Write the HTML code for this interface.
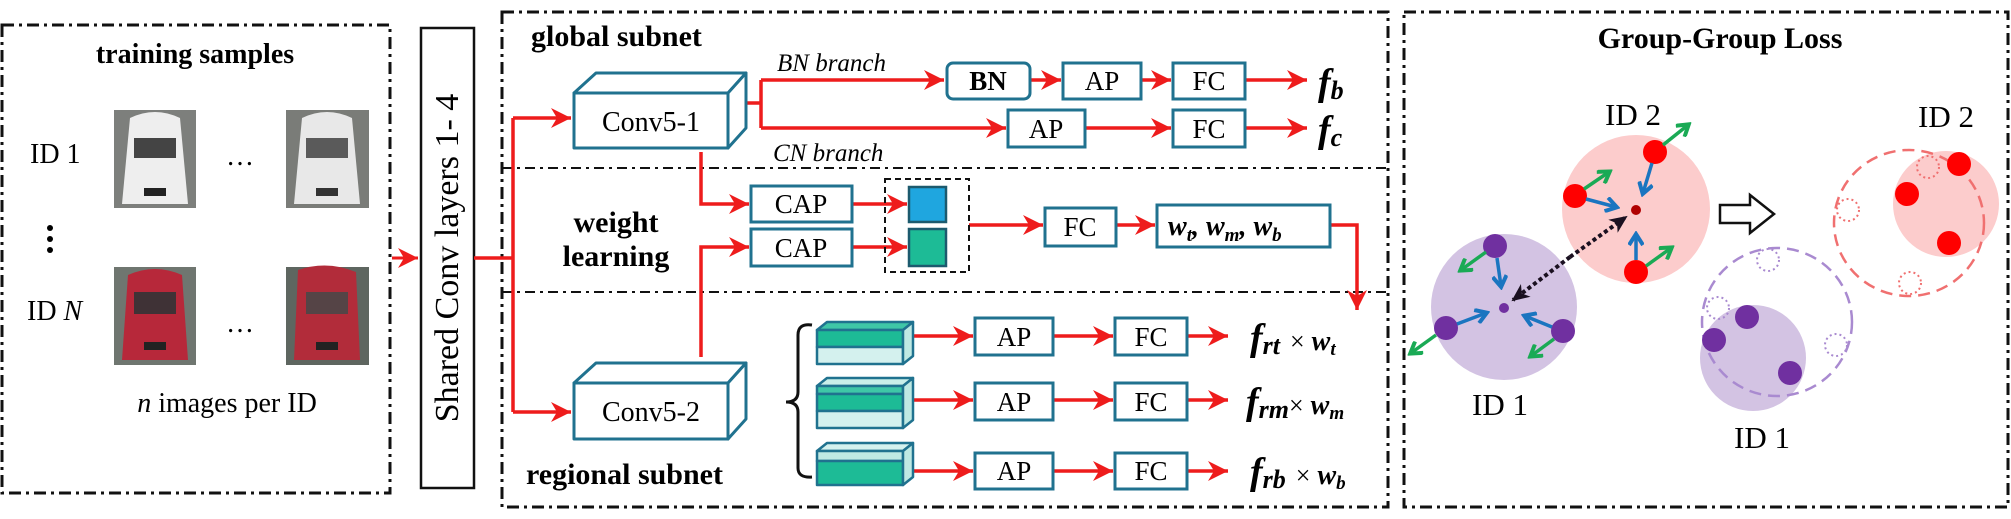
<!DOCTYPE html>
<html><head><meta charset="utf-8"><style>
html,body{margin:0;padding:0;background:#fff}
svg{display:block}
svg text{font-family:"Liberation Serif","Times New Roman",serif;fill:#000}
</style></head><body>
<svg width="2011" height="519" viewBox="0 0 2011 519" xmlns="http://www.w3.org/2000/svg" font-family="Liberation Serif, serif">
<defs>
<marker id="ar" markerUnits="userSpaceOnUse" markerWidth="22" markerHeight="22" refX="20" refY="10" orient="auto"><path d="M0,0 L20,10 L0,20 L6,10 Z" fill="#ee1c1c"/></marker>
<marker id="ab" markerUnits="userSpaceOnUse" markerWidth="16" markerHeight="16" refX="12" refY="8" orient="auto"><path d="M2,1 L13,8 L2,15" fill="none" stroke="#1a75c0" stroke-width="4"/></marker>
<marker id="ag" markerUnits="userSpaceOnUse" markerWidth="16" markerHeight="16" refX="12" refY="8" orient="auto"><path d="M2,1 L13,8 L2,15" fill="none" stroke="#1aaa55" stroke-width="4"/></marker>
<marker id="ak" markerUnits="userSpaceOnUse" markerWidth="20" markerHeight="20" refX="16" refY="10" orient="auto"><path d="M0,2 L18,10 L0,18 L5,10 Z" fill="#1a1020"/></marker>
</defs>

<g fill="none" stroke="#111" stroke-width="3" stroke-dasharray="12 5 3 5">
<rect x="2" y="25" width="388" height="468"/>
<rect x="502" y="12" width="886" height="495"/>
<rect x="1404" y="12" width="604" height="495"/>
</g>
<g stroke="#111" stroke-width="2" stroke-dasharray="10 5 3 5">
<line x1="502" y1="168" x2="1388" y2="168"/>
<line x1="502" y1="292" x2="1388" y2="292"/>
</g>

<text x="195" y="63" font-size="28" font-weight="bold" text-anchor="middle">training samples</text>
<text x="30" y="163" font-size="28">ID 1</text>
<text x="27" y="320" font-size="28">ID <tspan font-style="italic">N</tspan></text>
<text x="240" y="165" font-size="28" text-anchor="middle">…</text>
<text x="240" y="332" font-size="28" text-anchor="middle">…</text>
<circle cx="50" cy="228" r="3"/><circle cx="50" cy="239" r="3"/><circle cx="50" cy="250" r="3"/>
<text x="227" y="412" font-size="28" text-anchor="middle"><tspan font-style="italic">n</tspan> images per ID</text>
<g>
<rect x="114" y="110" width="82" height="98" fill="#7d7f7c"/>
<path d="M130,118 Q155,106 180,118 L188,204 L122,204 Z" fill="#eeeeee"/>
<rect x="134" y="138" width="42" height="20" fill="#444"/>
<rect x="144" y="188" width="22" height="8" fill="#222"/>
<rect x="286" y="110" width="83" height="98" fill="#7a7c78"/>
<path d="M302,118 Q327,106 352,118 L360,204 L294,204 Z" fill="#e8e8e8"/>
<rect x="306" y="138" width="42" height="20" fill="#5a5a5a"/>
<rect x="316" y="188" width="22" height="8" fill="#333"/>
<rect x="114" y="267" width="82" height="98" fill="#6f7670"/>
<path d="M128,275 Q155,263 182,275 L188,360 L122,360 Z" fill="#b7283a"/>
<rect x="134" y="292" width="42" height="22" fill="#3f3236"/>
<rect x="144" y="342" width="22" height="8" fill="#222"/>
<rect x="286" y="267" width="83" height="98" fill="#5e6660"/>
<path d="M298,270 Q327,260 356,272 L360,360 L294,360 Z" fill="#b22c3a"/>
<rect x="306" y="292" width="42" height="22" fill="#554446"/>
<rect x="316" y="342" width="22" height="8" fill="#222"/>
</g>
<line x1="392" y1="258" x2="418" y2="258" stroke="#ee1c1c" stroke-width="3" marker-end="url(#ar)"/>

<rect x="421" y="28" width="53" height="460" fill="#fff" stroke="#111" stroke-width="2.5"/>
<text transform="translate(458,258) rotate(-90)" font-size="34" text-anchor="middle">Shared Conv layers 1- 4</text>

<g fill="none" stroke="#ee1c1c" stroke-width="3.5">
<path d="M474,258 H513"/>
<path d="M513,118 V412"/>
<path d="M513,118 H571" marker-end="url(#ar)"/>
<path d="M513,412 H571" marker-end="url(#ar)"/>
<path d="M736,103 H761"/>
<path d="M761,80 V128"/>
<path d="M761,80 H944" marker-end="url(#ar)"/>
<path d="M761,128 H1006" marker-end="url(#ar)"/>
<path d="M1030,80 H1061" marker-end="url(#ar)"/>
<path d="M1141,80 H1171" marker-end="url(#ar)"/>
<path d="M1245,80 H1307" marker-end="url(#ar)"/>
<path d="M1085,128 H1171" marker-end="url(#ar)"/>
<path d="M1245,128 H1307" marker-end="url(#ar)"/>
<path d="M701,152 V204 H749" marker-end="url(#ar)"/>
<path d="M701,357 V247 H749" marker-end="url(#ar)"/>
<path d="M852,204 H907" marker-end="url(#ar)"/>
<path d="M852,247 H907" marker-end="url(#ar)"/>
<path d="M969,225 H1043" marker-end="url(#ar)"/>
<path d="M1116,225 H1155" marker-end="url(#ar)"/>
<path d="M1330,225 H1357 V310" marker-end="url(#ar)"/>
<path d="M913,336 H973" marker-end="url(#ar)"/>
<path d="M913,400 H973" marker-end="url(#ar)"/>
<path d="M913,471 H973" marker-end="url(#ar)"/>
<path d="M1053,336 H1113" marker-end="url(#ar)"/>
<path d="M1053,400 H1113" marker-end="url(#ar)"/>
<path d="M1053,471 H1113" marker-end="url(#ar)"/>
<path d="M1187,336 H1228" marker-end="url(#ar)"/>
<path d="M1187,400 H1228" marker-end="url(#ar)"/>
<path d="M1187,471 H1228" marker-end="url(#ar)"/>
</g>

<g fill="#fff" stroke="#20728f" stroke-width="3" stroke-linejoin="round">
<path d="M574,93 L596,73 L746,73 L728,93 Z"/>
<path d="M728,93 L746,73 L746,128 L728,148 Z"/>
<rect x="574" y="93" width="154" height="55"/>
<path d="M574,383 L596,363 L746,363 L728,383 Z"/>
<path d="M728,383 L746,363 L746,419 L728,439 Z"/>
<rect x="574" y="383" width="154" height="56"/>
</g>
<text x="651" y="131" font-size="28" text-anchor="middle">Conv5-1</text>
<text x="651" y="421" font-size="28" text-anchor="middle">Conv5-2</text>

<g fill="#fff" stroke="#20728f" stroke-width="3">
<rect x="947" y="63" width="83" height="36" rx="6"/>
<rect x="1063" y="63" width="78" height="36"/>
<rect x="1173" y="63" width="72" height="36"/>
<rect x="1008" y="110" width="77" height="37"/>
<rect x="1173" y="110" width="72" height="37"/>
<rect x="751" y="186" width="101" height="36"/>
<rect x="751" y="229" width="101" height="37"/>
<rect x="1045" y="208" width="71" height="38"/>
<rect x="1157" y="205" width="173" height="42"/>
<rect x="975" y="318" width="78" height="37"/>
<rect x="975" y="383" width="78" height="37"/>
<rect x="975" y="453" width="78" height="36"/>
<rect x="1115" y="318" width="72" height="37"/>
<rect x="1115" y="383" width="72" height="37"/>
<rect x="1115" y="453" width="72" height="36"/>
</g>
<g font-size="27" text-anchor="middle">
<text x="988" y="90" font-weight="bold">BN</text>
<text x="1102" y="90">AP</text>
<text x="1209" y="90">FC</text>
<text x="1046" y="138">AP</text>
<text x="1209" y="138">FC</text>
<text x="801" y="213">CAP</text>
<text x="801" y="257">CAP</text>
<text x="1080" y="236">FC</text>
<text x="1014" y="346">AP</text>
<text x="1014" y="411">AP</text>
<text x="1014" y="480">AP</text>
<text x="1151" y="346">FC</text>
<text x="1151" y="411">FC</text>
<text x="1151" y="480">FC</text>
</g>
<text x="1168" y="235" font-size="28" font-weight="bold" font-style="italic">w<tspan font-size="19" dy="6">t</tspan><tspan dy="-6">, w</tspan><tspan font-size="19" dy="6">m</tspan><tspan dy="-6">, w</tspan><tspan font-size="19" dy="6">b</tspan></text>

<rect x="885" y="179" width="84" height="93" fill="none" stroke="#111" stroke-width="2" stroke-dasharray="6 4"/>
<rect x="909" y="187" width="37" height="35" fill="#1fa6df" stroke="#1c5a6e" stroke-width="2.5"/>
<rect x="909" y="229" width="37" height="37" fill="#1dbb96" stroke="#1c5a6e" stroke-width="2.5"/>

<g font-weight="bold" font-size="30">
<text x="531" y="46">global subnet</text>
<text x="616" y="232" text-anchor="middle">weight</text>
<text x="616" y="266" text-anchor="middle">learning</text>
<text x="526" y="484">regional subnet</text>
</g>
<text x="777" y="71" font-size="25" font-style="italic">BN branch</text>
<text x="773" y="161" font-size="25" font-style="italic">CN branch</text>

<g font-style="italic" font-weight="bold">
<text x="1318" y="95" font-size="38">f<tspan font-size="26" dy="4">b</tspan></text>
<text x="1318" y="142" font-size="38">f<tspan font-size="26" dy="4">c</tspan></text>
<text x="1250" y="350" font-size="38">f<tspan font-size="26" dy="4">rt</tspan><tspan font-style="normal" font-weight="normal" font-size="26" dx="10" dy="-4">×</tspan><tspan font-size="28"> w</tspan><tspan font-size="19" dy="5">t</tspan></text>
<text x="1246" y="414" font-size="38">f<tspan font-size="26" dy="4">rm</tspan><tspan font-style="normal" font-weight="normal" font-size="26" dy="-4">×</tspan><tspan font-size="28"> w</tspan><tspan font-size="19" dy="5">m</tspan></text>
<text x="1250" y="484" font-size="38">f<tspan font-size="26" dy="4">rb</tspan><tspan font-style="normal" font-weight="normal" font-size="26" dx="10" dy="-4">×</tspan><tspan font-size="28"> w</tspan><tspan font-size="19" dy="5">b</tspan></text>
</g>

<path d="M812,325 Q798,323 798,335 L798,392 Q798,402 786,402 Q798,402 798,412 L798,468 Q798,478 812,477" fill="none" stroke="#111" stroke-width="3"/>

<g stroke="#20728f" stroke-width="2.5" stroke-linejoin="round">
<path d="M817,330 L827,322 L913,322 L903,330 Z" fill="#3fc7a7"/>
<rect x="817" y="330" width="86" height="17" fill="#1dbb96"/>
<rect x="817" y="347" width="86" height="17" fill="#d4f1ee"/>
<path d="M903,330 L913,322 L913,356 L903,364 Z" fill="#bfe9e3"/>
<path d="M817,386 L827,378 L913,378 L903,386 Z" fill="#c9efe9"/>
<rect x="817" y="386" width="86" height="8" fill="#3fc7a7"/>
<rect x="817" y="394" width="86" height="17" fill="#1dbb96"/>
<rect x="817" y="411" width="86" height="17" fill="#d4f1ee"/>
<path d="M903,386 L913,378 L913,420 L903,428 Z" fill="#bfe9e3"/>
<path d="M817,451 L827,443 L913,443 L903,451 Z" fill="#d4f1ee"/>
<rect x="817" y="451" width="86" height="10" fill="#bfe9e3"/>
<rect x="817" y="461" width="86" height="24" fill="#1dbb96"/>
<path d="M903,451 L913,443 L913,477 L903,485 Z" fill="#bfe9e3"/>
</g>

<text x="1720" y="48" font-size="30" font-weight="bold" text-anchor="middle">Group-Group Loss</text>
<circle cx="1636" cy="209" r="74" fill="#fccccc"/>
<circle cx="1504" cy="307" r="73" fill="#d3c3e3"/>
<circle cx="1946" cy="204" r="53" fill="#fccccc"/>
<circle cx="1753" cy="358" r="53" fill="#d3c3e3"/>
<ellipse cx="1909" cy="223" rx="75" ry="73" fill="none" stroke="#f07070" stroke-width="2.5" stroke-dasharray="12 7"/>
<ellipse cx="1777" cy="322" rx="75" ry="74" fill="none" stroke="#a98ad0" stroke-width="2.5" stroke-dasharray="12 7"/>
<g fill="none" stroke-width="2" stroke-dasharray="2 3">
<circle cx="1928" cy="167" r="11" stroke="#f07070"/>
<circle cx="1848" cy="210" r="11" stroke="#f07070"/>
<circle cx="1910" cy="283" r="11" stroke="#f07070"/>
<circle cx="1768" cy="260" r="11" stroke="#a98ad0"/>
<circle cx="1718" cy="308" r="11" stroke="#a98ad0"/>
<circle cx="1836" cy="345" r="11" stroke="#a98ad0"/>
</g>
<g fill="#ff0000">
<circle cx="1655" cy="152" r="12"/><circle cx="1575" cy="196" r="12"/><circle cx="1636" cy="272" r="12"/>
<circle cx="1959" cy="164" r="12"/><circle cx="1907" cy="194" r="12"/><circle cx="1949" cy="243" r="12"/>
</g>
<circle cx="1636" cy="210" r="5" fill="#b00000"/>
<g fill="#7030a0">
<circle cx="1495" cy="246" r="12"/><circle cx="1446" cy="328" r="12"/><circle cx="1563" cy="331" r="12"/>
<circle cx="1747" cy="317" r="12"/><circle cx="1714" cy="340" r="12"/><circle cx="1790" cy="373" r="12"/>
<circle cx="1504" cy="308" r="5"/>
</g>
<g stroke-width="3.5" fill="none">
<line x1="1652" y1="163" x2="1643" y2="193" stroke="#1a75c0" marker-end="url(#ab)"/>
<line x1="1663" y1="145" x2="1688" y2="125" stroke="#1aaa55" marker-end="url(#ag)"/>
<line x1="1586" y1="199" x2="1616" y2="207" stroke="#1a75c0" marker-end="url(#ab)"/>
<line x1="1584" y1="189" x2="1609" y2="172" stroke="#1aaa55" marker-end="url(#ag)"/>
<line x1="1636" y1="260" x2="1636" y2="235" stroke="#1a75c0" marker-end="url(#ab)"/>
<line x1="1646" y1="266" x2="1671" y2="248" stroke="#1aaa55" marker-end="url(#ag)"/>
<line x1="1497" y1="258" x2="1501" y2="286" stroke="#1a75c0" marker-end="url(#ab)"/>
<line x1="1486" y1="252" x2="1461" y2="270" stroke="#1aaa55" marker-end="url(#ag)"/>
<line x1="1457" y1="324" x2="1486" y2="313" stroke="#1a75c0" marker-end="url(#ab)"/>
<line x1="1436" y1="335" x2="1411" y2="353" stroke="#1aaa55" marker-end="url(#ag)"/>
<line x1="1552" y1="327" x2="1525" y2="316" stroke="#1a75c0" marker-end="url(#ab)"/>
<line x1="1554" y1="339" x2="1531" y2="356" stroke="#1aaa55" marker-end="url(#ag)"/>
</g>
<line x1="1570" y1="257" x2="1626" y2="217" stroke="#1a1020" stroke-width="4" stroke-dasharray="4 3" marker-end="url(#ak)"/>
<line x1="1570" y1="257" x2="1513" y2="300" stroke="#1a1020" stroke-width="4" stroke-dasharray="4 3" marker-end="url(#ak)"/>
<path d="M1720,205 L1750,205 L1750,195 L1774,214 L1750,233 L1750,223 L1720,223 Z" fill="#fff" stroke="#111" stroke-width="2.5"/>
<g font-size="31">
<text x="1605" y="125">ID 2</text>
<text x="1918" y="127">ID 2</text>
<text x="1472" y="415">ID 1</text>
<text x="1734" y="448">ID 1</text>
</g>
</svg>
</body></html>
